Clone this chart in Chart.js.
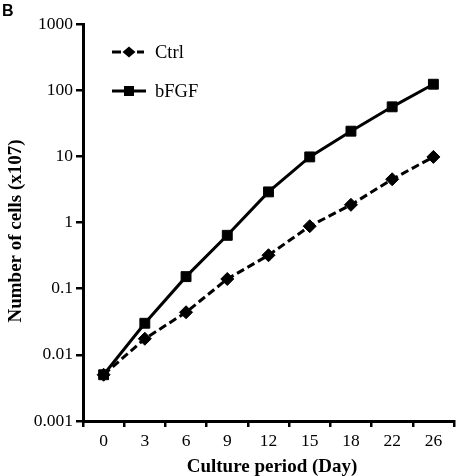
<!DOCTYPE html>
<html><head><meta charset="utf-8">
<script src="https://cdn.jsdelivr.net/npm/chart.js@4"></script>
<style>
html,body{margin:0;padding:0;background:#fff;}
#wrap{position:relative;width:462px;height:476px;}
#lbl{position:absolute;left:2px;top:3px;font:bold 16px "Liberation Sans",Arial,sans-serif;color:#000;line-height:16px;}
</style></head><body>
<div id="wrap"><canvas id="c" width="462" height="476"></canvas><div id="lbl">B</div></div>
<script>
const days = ['0','3','6','9','12','15','18','22','26'];
const ctrlValues = [0.005, 0.0175, 0.044, 0.14, 0.32, 0.88, 1.85, 4.5, 9.8];
const bfgfValues = [0.005, 0.030, 0.152, 0.64, 2.9, 9.8, 24, 56, 123];
const yTickValues = [0.001, 0.01, 0.1, 1, 10, 100, 1000];
const seriesNames = ['Ctrl', 'bFGF'];
const xTitle = 'Culture period (Day)';
const yTitle = 'Number of cells (x107)';

const SERIF = '"Liberation Serif","Times New Roman",serif';

const annotationsPlugin = {
  id: 'customLegendAndTitles',
  afterDraw(chart) {
    const ctx = chart.ctx;
    ctx.save();
    ctx.strokeStyle = '#000';
    ctx.fillStyle = '#000';
    ctx.lineWidth = 3;
    // legend: Ctrl
    let y = 52;
    ctx.beginPath();
    ctx.moveTo(112, y); ctx.lineTo(121, y);
    ctx.moveTo(137, y); ctx.lineTo(144, y);
    ctx.stroke();
    ctx.beginPath();
    ctx.moveTo(129 - 6.5, y); ctx.lineTo(129, y - 5.5); ctx.lineTo(129 + 6.5, y); ctx.lineTo(129, y + 5.5); ctx.closePath();
    ctx.fill();
    // legend: bFGF
    y = 91;
    ctx.beginPath();
    ctx.moveTo(112, y); ctx.lineTo(146, y);
    ctx.stroke();
    ctx.fillRect(124, y - 5, 10, 10);
    ctx.font = '18.5px ' + SERIF;
    ctx.textBaseline = 'middle';
    ctx.textAlign = 'left';
    ctx.fillText(seriesNames[0], 155, 53);
    ctx.fillText(seriesNames[1], 155, 92);
    // axis titles
    ctx.font = 'bold 19px ' + SERIF;
    ctx.textAlign = 'center';
    ctx.textBaseline = 'middle';
    ctx.fillText(xTitle, 272, 467);
    ctx.translate(16, 231);
    ctx.rotate(-Math.PI / 2);
    ctx.fillText(yTitle, 0, 0);
    ctx.restore();
  }
};

new Chart(document.getElementById('c'), {
  type: 'line',
  data: {
    labels: days,
    datasets: [
      {
        label: seriesNames[0], data: ctrlValues,
        borderColor: '#000', backgroundColor: '#000', borderWidth: 3,
        borderDash: [8, 4], tension: 0, clip: false,
        pointStyle: 'rectRot', pointRadius: 6.5, pointHoverRadius: 6.5,
        pointBackgroundColor: '#000', pointBorderColor: '#000', pointBorderWidth: 1
      },
      {
        label: seriesNames[1], data: bfgfValues,
        borderColor: '#000', backgroundColor: '#000', borderWidth: 3,
        tension: 0, clip: false,
        pointStyle: 'rect', pointRadius: 7, pointHoverRadius: 7,
        pointBackgroundColor: '#000', pointBorderColor: '#000', pointBorderWidth: 1
      }
    ]
  },
  options: {
    responsive: false,
    animation: false,
    layout: { padding: { top: 24, right: 3, left: 0, bottom: 0 } },
    plugins: { legend: { display: false }, tooltip: { enabled: false } },
    scales: {
      x: {
        type: 'category',
        offset: true,
        afterFit(s) { s.height = 55; },
        border: { display: true, color: '#000', width: 3 },
        grid: { offset: true, drawOnChartArea: false, drawTicks: true, tickLength: 6, color: '#000', lineWidth: 2.5 },
        ticks: { color: '#000', font: { family: SERIF, size: 17.5 }, padding: 4, maxRotation: 0, autoSkip: false },
        title: { display: false }
      },
      y: {
        type: 'logarithmic',
        min: 0.001, max: 1000,
        afterFit(s) { s.width = 83; },
        afterBuildTicks(s) { s.ticks = yTickValues.map(v => ({ value: v })); },
        border: { display: true, color: '#000', width: 3 },
        grid: { drawOnChartArea: false, drawTicks: true, tickLength: 7, color: '#000', lineWidth: 2.5 },
        ticks: { color: '#000', font: { family: SERIF, size: 17.5 }, padding: 3, callback: (v) => String(v), autoSkip: false },
        title: { display: false }
      }
    }
  },
  plugins: [annotationsPlugin]
});
</script>
</body></html>
